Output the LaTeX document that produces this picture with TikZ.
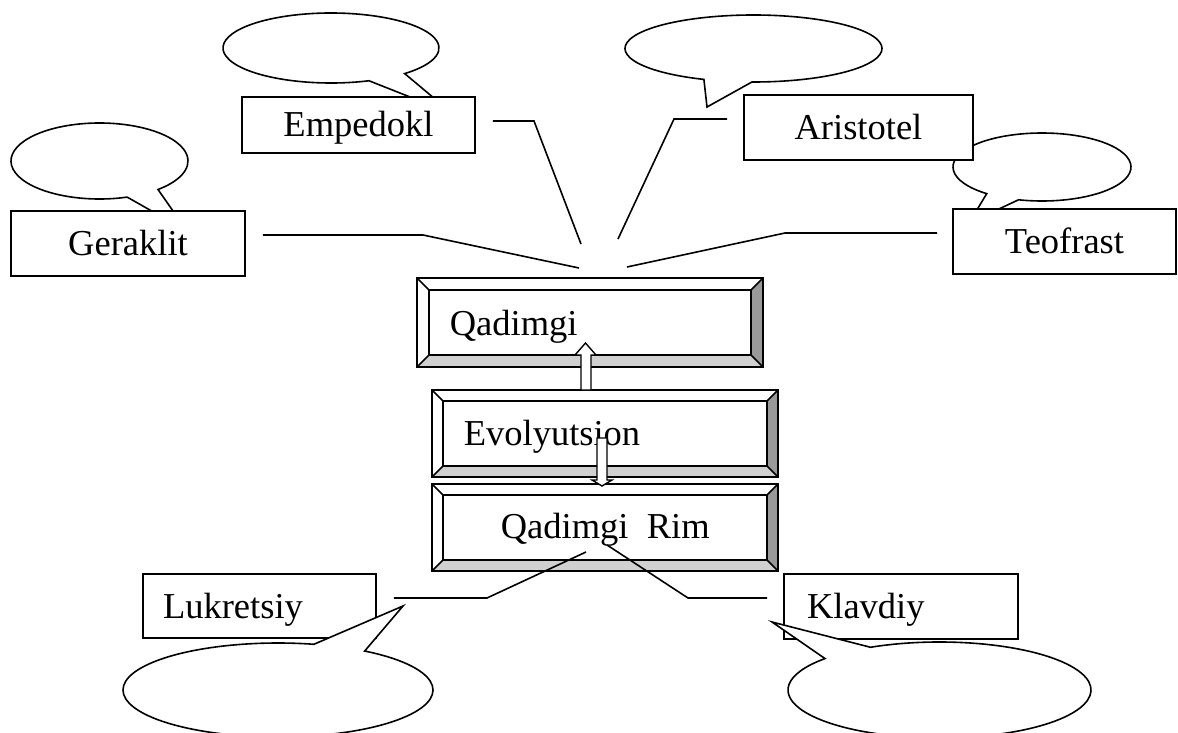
\documentclass[tikz,border=0pt]{standalone}
\usepackage{fontspec}
\setmainfont{Liberation Serif}
\usetikzlibrary{calc}
\definecolor{botgray}{RGB}{208,208,208}
\definecolor{rgtgray}{RGB}{153,153,153}
\newcommand\bevelfaces[2]{%
  \fill[botgray] (#1.south west) -- (#1.south east) -- ($(#1.south east)+(-#2,-#2)$) -- ($(#1.south west)+(#2,-#2)$) -- cycle;
  \fill[rgtgray] (#1.south east) -- (#1.north east) -- ($(#1.north east)+(-#2,#2)$) -- ($(#1.south east)+(-#2,-#2)$) -- cycle;
  \draw (#1.south west) rectangle (#1.north east);
  \draw ($(#1.south west)+(#2,-#2)$) rectangle ($(#1.north east)+(-#2,#2)$);
  \draw (#1.south west) -- ++(#2,-#2) (#1.south east) -- ++(-#2,-#2)
        (#1.north east) -- ++(-#2,#2) (#1.north west) -- ++(#2,#2);
}
\begin{document}
\begin{tikzpicture}[x=1pt,y=-1pt,line width=1.6pt,
  txt/.style={font=\fontsize{36.5pt}{40pt}\selectfont},
  box/.style={txt,draw,fill=white,inner sep=0pt,text height=24pt,text depth=0pt},
  lbox/.style={box,align=left},
  bev/.style={draw,fill=white,inner sep=0pt,outer sep=0pt,minimum width=346pt},
  lbl/.style={txt,inner sep=0pt},
  bubble/.style={draw,fill=white},
  conn/.style={draw},
  barrow/.style={draw,fill=white,line width=1.4pt}]
\useasboundingbox[fill=white] (0,0) rectangle (1178,733);

% upper speech bubbles
\draw[bubble] (99.5,161) ++(71.8:88.5 and 38) arc[start angle=71.8,end angle=408.6,x radius=88.5,y radius=38] -- (187,231) -- cycle;
\draw[bubble] (331,48) ++(69.4:108 and 35) arc[start angle=69.4,end angle=407,x radius=108,y radius=35] -- (453,114) -- cycle;
\draw[bubble] (753.5,48.5) ++(112.7:128.5 and 33.5) arc[start angle=112.7,end angle=450.7,x radius=128.5,y radius=33.5] -- (707,107) -- cycle;
\draw[bubble] (1042,167) ++(128.4:89 and 34) arc[start angle=128.4,end angle=465.3,x radius=89,y radius=34] -- (969,223) -- cycle;

% name boxes (top)
\node[box,minimum width=234pt,minimum height=65pt] (ger) at (128,243.5) {Geraklit};
\node[box,minimum width=233pt,minimum height=56pt] (emp) at (358.5,125) {Empedokl};
\node[box,minimum width=229pt,minimum height=65pt] (ari) at (858.5,127.5) {Aristotel};
\node[box,minimum width=223pt,minimum height=65pt] (teo) at (1064.5,241.5) {Teofrast};

% connector ends
\coordinate (gerB) at (423,235);  \coordinate (gerE) at (579,268);
\coordinate (empB) at (534,121);  \coordinate (empE) at (581,244);
\coordinate (ariB) at (674,119);  \coordinate (ariE) at (618,239);
\coordinate (teoB) at (785,233);  \coordinate (teoE) at (627,267);
\coordinate (lukB) at (487,598);  \coordinate (lukE) at (586,552);
\coordinate (klaB) at (688,598);  \coordinate (klaE) at (607,545);

\draw[conn] ([shift={(17,-8.5)}]ger.east) -- (gerB) -- (gerE);
\draw[conn] ([shift={(17,-4)}]emp.east) -- (empB) -- (empE);
\draw[conn] ([shift={(-16,-8.5)}]ari.west) -- (ariB) -- (ariE);
\draw[conn] ([shift={(-15,-8.5)}]teo.west) -- (teoB) -- (teoE);

% bevelled boxes
\node[bev,minimum height=89pt] (q1) at (590,322.5) {};
\bevelfaces{q1}{12}
\node[bev,minimum height=87pt] (evol) at (605,433.5) {};
\bevelfaces{evol}{11}
\node[bev,minimum height=87pt] (qr) at (605,527.5) {};
\bevelfaces{qr}{11}
\node[lbl,anchor=base west] (t1) at ($(q1.west)+(32,12.5)$) {Qadimgi};
\node[lbl,anchor=base west] (t2) at ($(evol.west)+(31,11.5)$) {Evolyutsion};
\node[lbl,anchor=base west] (t3) at ($(qr.west)+(68,10.5)$) {Qadimgi\ \ Rim};

% block arrows
\draw[barrow] ($(evol.north)+(-24,0)$) -- ++(0,-35) -- ++(-6,0) -- ++(10.5,-12) -- ++(10.5,12) -- ++(-5,0) -- ++(0,35) -- cycle;
\draw[barrow] ($(qr.north)+(-3,2)$) -- ++(-10,-6) -- ++(5,0) -- ++(0,-42) -- ++(10,0) -- ++(0,42) -- ++(5,0) -- cycle;

% bottom boxes
\node[lbox,inner xsep=20pt,text width=193pt,minimum height=64pt] (luk) at (259.5,606) {Lukretsiy};
\node[lbox,inner xsep=23pt,text width=188pt,minimum height=65pt] (kla) at (901,606.5) {Klavdiy};

% bottom connectors
\draw[conn] ([shift={(17,-8)}]luk.east) -- (lukB) -- (lukE);
\draw[conn] ([shift={(-16,-8.5)}]kla.west) -- (klaB) -- (klaE);

% bottom speech bubbles
\draw[bubble] (278,690) ++(-56:155 and 47) arc[start angle=-56,end angle=283.4,x radius=155,y radius=47] -- (403,606) -- cycle;
\draw[bubble] (939.5,690) ++(242.9:151.5 and 48) arc[start angle=242.9,end angle=580.9,x radius=151.5,y radius=48] -- (772,622) -- cycle;
\end{tikzpicture}
\end{document}
